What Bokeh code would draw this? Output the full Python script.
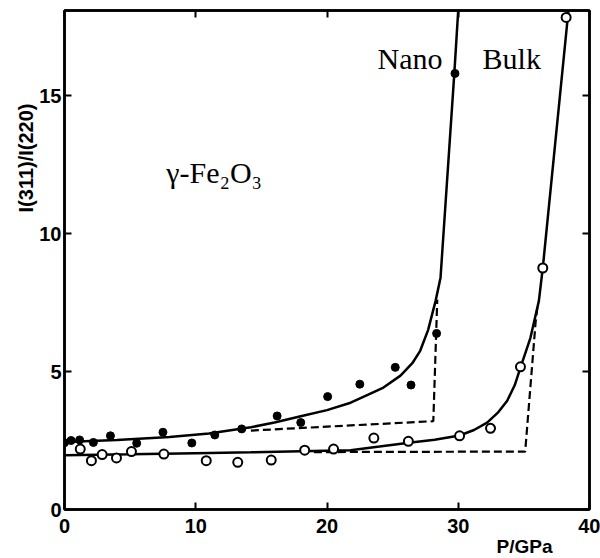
from bokeh.plotting import figure
from bokeh.models import Range1d, LinearAxis, Label, FixedTicker, Title
from bokeh.embed import file_html
from bokeh.resources import INLINE

# ---- data ----
nano_p = [0.0, 0.5, 1.15, 2.2, 3.5, 5.5, 7.5, 9.7, 11.45, 13.5, 16.2, 18.0,
          20.05, 22.5, 25.2, 26.4, 28.35, 29.75]
nano_r = [2.42, 2.5, 2.52, 2.43, 2.67, 2.4, 2.8, 2.41, 2.7, 2.92, 3.39, 3.15,
          4.09, 4.54, 5.15, 4.51, 6.38, 15.8]

bulk_p = [1.2, 2.05, 2.87, 3.96, 5.1, 7.57, 10.8, 13.2, 15.75, 18.3, 20.5,
          23.57, 26.2, 30.1, 32.46, 34.74, 36.44, 38.22]
bulk_r = [2.19, 1.77, 1.99, 1.87, 2.1, 2.01, 1.77, 1.71, 1.79, 2.15, 2.19,
          2.59, 2.47, 2.67, 2.94, 5.17, 8.75, 17.83]

# fitted (solid) curves, as drawn in the picture
nano_fit_p = [0, 4, 8, 11, 14.2, 16, 18, 20, 21.8, 23.1, 24.3, 25.6, 26.5,
              27.1, 27.7, 28.27, 28.65, 29.7, 30.0]
nano_fit_r = [2.45, 2.52, 2.63, 2.75, 2.98, 3.15, 3.38, 3.6, 3.87, 4.15, 4.42,
              4.85, 5.3, 5.75, 6.5, 7.55, 8.4, 15.8, 18.1]
bulk_fit_p = [0, 5, 10, 14.2, 18, 21.8, 24, 26.4, 28.2, 30.1, 31.2, 32.2, 33.0,
              33.73, 34.3, 34.74, 35.5, 36.14, 36.44, 38.4]
bulk_fit_r = [1.97, 2.0, 2.04, 2.07, 2.11, 2.15, 2.28, 2.43, 2.53, 2.68, 2.88,
              3.15, 3.5, 3.94, 4.5, 5.14, 6.22, 7.55, 8.75, 18.1]

# dashed (step) curves
nano_step_p = [14.2, 28.1, 28.4]
nano_step_r = [2.86, 3.2, 7.6]
bulk_step_p = [19.0, 35.1, 35.9, 36.05]
bulk_step_r = [2.08, 2.1, 6.82, 7.4]

x_ticks = [0, 10, 20, 30, 40]
y_ticks = [0, 5, 10, 15]

FONT = "Liberation Sans"
SERIF = "Liberation Serif"

p = figure(width=600, height=558,
           min_border_left=64, min_border_right=11, min_border_top=10, min_border_bottom=49,
           x_range=Range1d(0, 40), y_range=Range1d(0, 18.08),
           output_backend="svg", toolbar_location=None,
           background_fill_color="white", border_fill_color="white")
p.grid.visible = False
p.outline_line_color = "black"
p.outline_line_width = 2.5
p.outline_line_alpha = 1.0

def style_axis(ax, labels=True):
    ax.axis_line_width = 2.5
    ax.axis_line_color = "black"
    ax.major_tick_in = 7
    ax.major_tick_out = 0
    ax.major_tick_line_width = 2
    ax.major_tick_line_color = "black"
    ax.minor_tick_line_color = None
    if labels:
        ax.major_label_text_font = FONT
        ax.major_label_text_font_style = "bold"
        ax.major_label_text_font_size = "20px"
        ax.major_label_text_color = "black"
    else:
        ax.major_label_overrides = {t: "" for t in ax.ticker.ticks}
        ax.major_label_text_font_size = "1px"
        ax.major_label_standoff = 0

xa = p.xaxis[0]
xa.ticker = FixedTicker(ticks=x_ticks)
style_axis(xa)
xa.major_label_standoff = 9
ya = p.yaxis[0]
ya.ticker = FixedTicker(ticks=y_ticks)
style_axis(ya)
ya.major_label_standoff = 3

top = LinearAxis(ticker=FixedTicker(ticks=x_ticks))
style_axis(top, labels=False)
p.add_layout(top, "above")
right = LinearAxis(ticker=FixedTicker(ticks=y_ticks))
style_axis(right, labels=False)
p.add_layout(right, "right")

# axis titles
p.add_layout(Title(text="I(311)/I(220)", align="right", offset=93, standoff=0,
                   text_font=FONT, text_font_style="bold", text_font_size="20px",
                   text_color="black"), "left")
p.add_layout(Title(text="P/GPa", align="right", offset=37, standoff=0,
                   vertical_align="top",
                   text_font=FONT, text_font_style="bold", text_font_size="19px",
                   text_color="black"), "below")

# curves
p.line(nano_fit_p, nano_fit_r, line_color="black", line_width=2.5)
p.line(bulk_fit_p, bulk_fit_r, line_color="black", line_width=2.5)
p.line(nano_step_p, nano_step_r, line_color="black", line_width=2.2, line_dash="8 4")
p.line(bulk_step_p, bulk_step_r, line_color="black", line_width=2.2, line_dash="8 4")

# points
p.scatter(nano_p, nano_r, size=8, marker="circle", fill_color="black", line_color="black")
p.scatter(bulk_p, bulk_r, size=9, marker="circle", fill_color="white",
          line_color="black", line_width=2)

# texts
p.add_layout(Label(x=23.85, y=16.33, text="Nano", text_font=SERIF, text_font_size="30px",
                   text_color="black", text_align="left", text_baseline="alphabetic"))
p.add_layout(Label(x=31.85, y=16.33, text="Bulk", text_font=SERIF, text_font_size="30px",
                   text_color="black", text_align="left", text_baseline="alphabetic"))
p.add_layout(Label(x=7.75, y=12.2, text="γ-Fe₂O₃", text_font=SERIF, text_font_size="30px",
                   text_color="black", text_align="left", text_baseline="alphabetic"))

open("out.html", "w").write(file_html(p, INLINE))
